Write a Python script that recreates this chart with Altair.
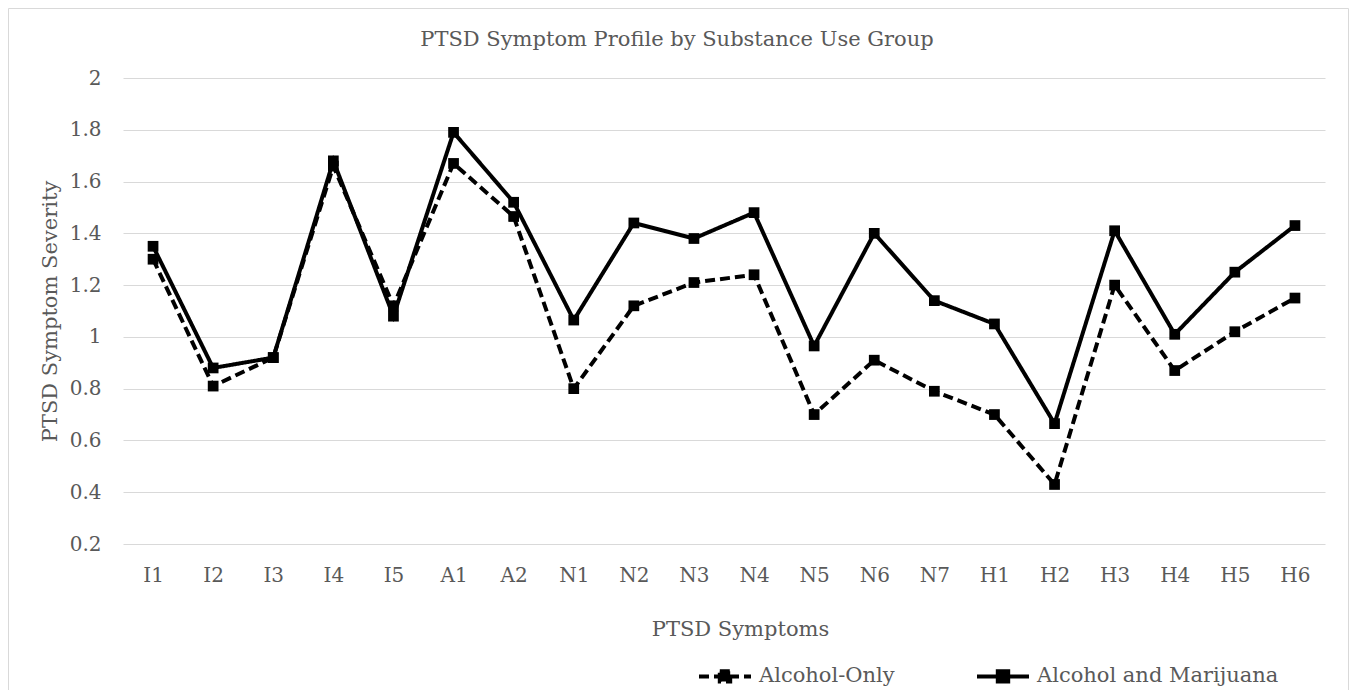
import altair as alt
import pandas as pd

symptoms = ["I1", "I2", "I3", "I4", "I5", "A1", "A2", "N1", "N2", "N3",
            "N4", "N5", "N6", "N7", "H1", "H2", "H3", "H4", "H5", "H6"]
alcohol_only = [1.30, 0.81, 0.92, 1.66, 1.12, 1.67, 1.465, 0.80, 1.12, 1.21,
                1.24, 0.70, 0.91, 0.79, 0.70, 0.43, 1.20, 0.87, 1.02, 1.15]
alcohol_marijuana = [1.35, 0.88, 0.92, 1.68, 1.08, 1.79, 1.52, 1.065, 1.44, 1.38,
                     1.48, 0.965, 1.40, 1.14, 1.05, 0.665, 1.41, 1.01, 1.25, 1.43]
series_names = ["Alcohol-Only", "Alcohol and Marijuana"]
y_ticks = [0.2, 0.4, 0.6, 0.8, 1.0, 1.2, 1.4, 1.6, 1.8, 2.0]
title_text = "PTSD Symptom Profile by Substance Use Group"

rows = []
for name, vals in zip(series_names, [alcohol_only, alcohol_marijuana]):
    for s, v in zip(symptoms, vals):
        rows.append({"symptom": s, "value": v, "series": name})
df = pd.DataFrame(rows)

FONT = "DejaVu Serif"
GRAY = "#595959"

W, H = 1202, 466

x_enc = alt.X("symptom:N", sort=symptoms,
              scale=alt.Scale(type="point", padding=0.5),
              axis=alt.Axis(title="PTSD Symptoms", labelAngle=0, domain=False,
                            ticks=False, tickSize=0, grid=False,
                            labelFont=FONT, labelFontSize=20, labelColor=GRAY,
                            labelBaseline="middle", labelPadding=31,
                            titleFont=FONT, titleFontSize=21, titleFontWeight="normal",
                            titleColor=GRAY, titleX=617, titleY=85,
                            titleBaseline="middle"))
y_enc = alt.Y("value:Q",
              scale=alt.Scale(domain=[0.2, 2.0], nice=False, zero=False),
              axis=alt.Axis(title="PTSD Symptom Severity", values=y_ticks, format="~g",
                            domain=False, ticks=False, tickSize=0,
                            grid=True, gridColor="#d9d9d9", gridWidth=1,
                            labelFont=FONT, labelFontSize=20, labelColor=GRAY,
                            labelPadding=22,
                            titleFont=FONT, titleFontSize=21, titleFontWeight="normal",
                            titleColor=GRAY, titleX=-73, titleY=H / 2,
                            titleBaseline="middle", titleAngle=270))

legend_symbol = "M-1,0H1M-0.2,-0.2H0.2V0.2H-0.2Z"

lines = alt.Chart(df).mark_line(color="black", strokeWidth=4).encode(
    x=x_enc,
    y=y_enc,
    strokeDash=alt.StrokeDash(
        "series:N", sort=series_names,
        scale=alt.Scale(domain=series_names, range=[[10, 5], [1, 0]]),
        legend=alt.Legend(title=None, orient="none", legendX=574, legendY=570,
                          direction="horizontal", symbolType=legend_symbol,
                          symbolSize=2704, symbolStrokeWidth=4,
                          symbolStrokeColor="black", symbolFillColor="black",
                          labelFont=FONT, labelFontSize=21, labelColor=GRAY,
                          labelLimit=500,
                          labelOffset=6, columnPadding=74, padding=0)),
    detail="series:N",
)

points = alt.Chart(df).mark_point(shape="square", filled=True, size=115,
                                  color="black", opacity=1).encode(
    x=alt.X("symptom:N", sort=symptoms), y="value:Q",
)

deco = alt.Chart(alt.Data(values=[{"t": title_text}]))
border = deco.mark_rect(fill="transparent", stroke="#d9d9d9", strokeWidth=1).encode(
    x=alt.value(-114.5), x2=alt.value(1225.5), y=alt.value(-69.5), y2=alt.value(640))
title = deco.mark_text(font=FONT, fontSize=21, color=GRAY, baseline="middle",
                       align="center").encode(
    x=alt.value(554), y=alt.value(-38), text="t:N")

chart = alt.layer(border, title, lines, points).properties(
    width=W, height=H,
    autosize=alt.AutoSizeParams(type="none"),
    padding={"left": 115, "top": 70, "right": 24, "bottom": 146},
).configure_view(stroke=None)

chart.save("out.html", embed_options={"renderer": "svg", "actions": False})
